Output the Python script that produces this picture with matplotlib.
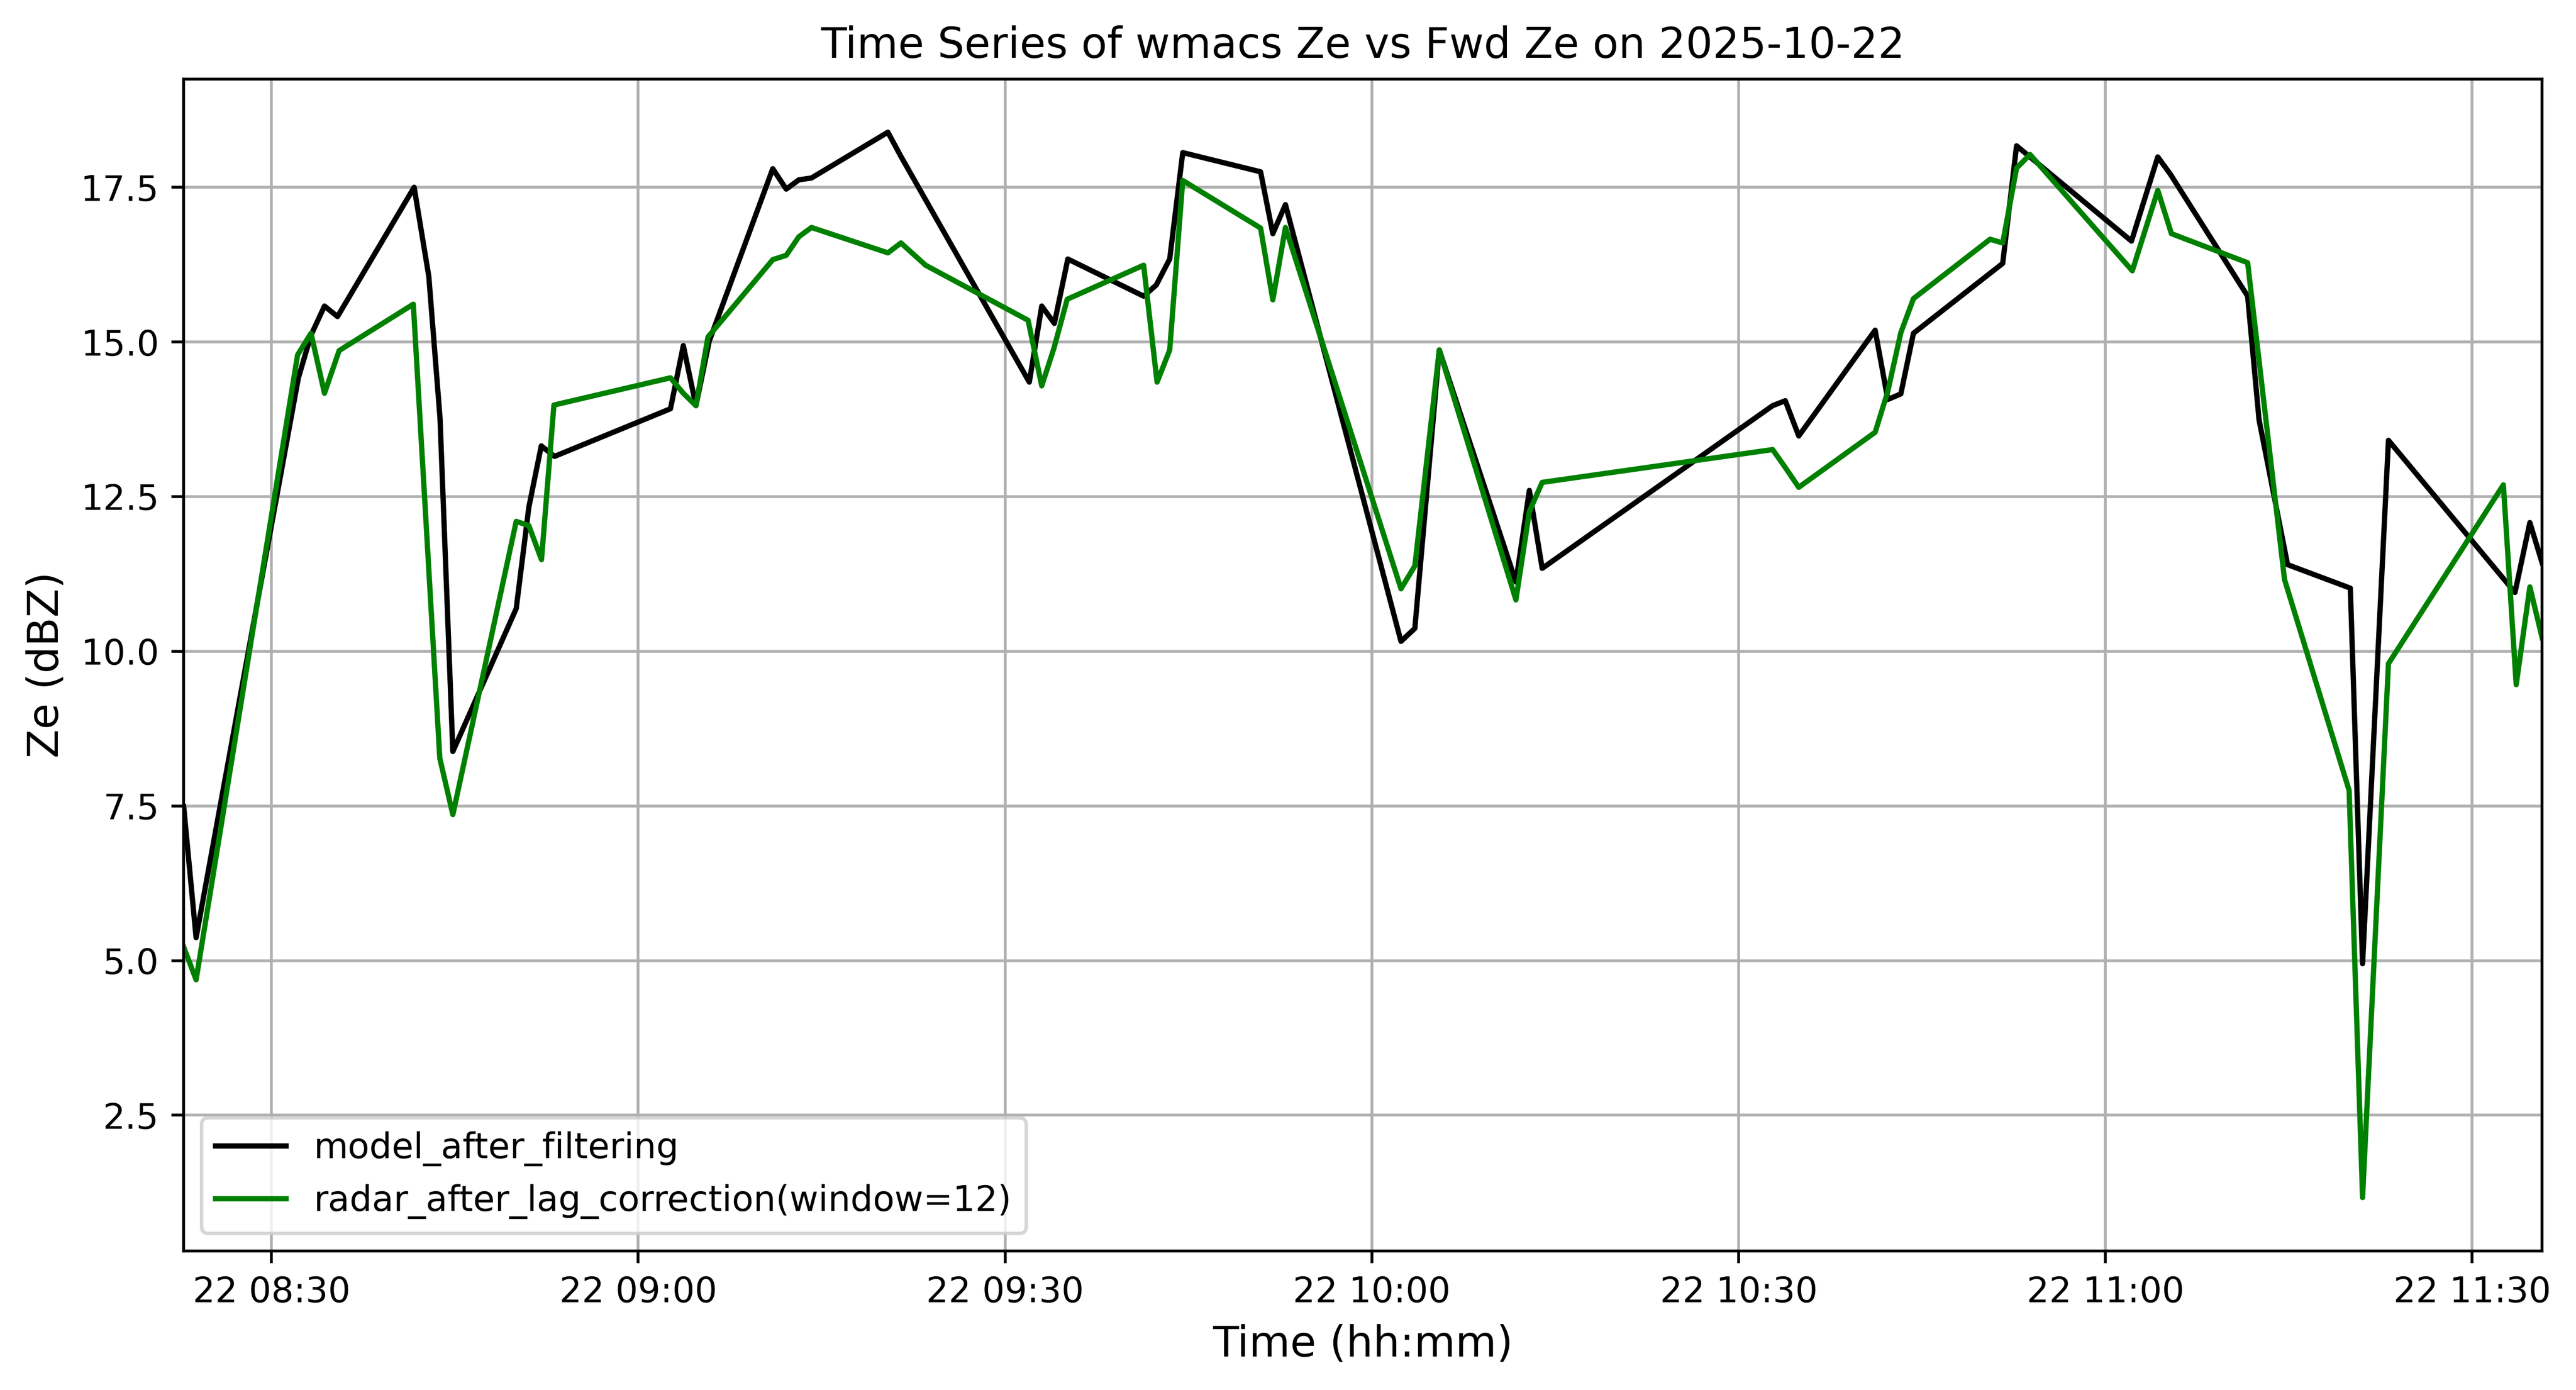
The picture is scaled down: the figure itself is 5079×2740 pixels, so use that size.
import pandas as pd
import matplotlib
matplotlib.use("Agg")
import matplotlib.pyplot as plt

DATE = "2025-10-22"

# model_after_filtering (Ze, dBZ)
model_times = [
    "08:22:49", "08:23:50", "08:32:12", "08:33:14", "08:34:20", "08:35:24",
    "08:41:40", "08:42:52", "08:43:47", "08:44:50", "08:50:01", "08:51:03",
    "08:52:04", "08:53:09", "09:02:38", "09:03:41", "09:04:43", "09:05:48",
    "09:11:00", "09:12:06", "09:13:08", "09:14:10", "09:20:25", "09:21:27",
    "09:31:59", "09:33:00", "09:34:02", "09:35:08", "09:41:20", "09:42:22",
    "09:43:28", "09:44:32", "09:50:54", "09:51:54", "09:52:56", "10:02:23",
    "10:03:31", "10:05:31", "10:11:47", "10:12:53", "10:13:56", "10:32:47",
    "10:33:49", "10:34:55", "10:41:10", "10:42:12", "10:43:16", "10:44:18",
    "10:51:36", "10:52:44", "10:53:50", "11:02:08", "11:04:17", "11:05:19",
    "11:11:38", "11:12:34", "11:14:54", "11:20:02", "11:21:02", "11:23:09",
    "11:33:30", "11:34:43", "11:35:43",
]
model_ze = [
    7.49, 5.37, 14.42, 15.11, 15.58, 15.41,
    17.50, 16.06, 13.77, 8.38, 10.69, 12.33,
    13.32, 13.15, 13.92, 14.94, 13.97, 15.01,
    17.80, 17.47, 17.62, 17.65, 18.39, 18.01,
    14.35, 15.58, 15.30, 16.34, 15.74, 15.92,
    16.34, 18.06, 17.75, 16.75, 17.22, 10.16,
    10.37, 14.87, 11.12, 12.60, 11.34, 13.97,
    14.05, 13.48, 15.19, 14.07, 14.16, 15.14,
    16.27, 18.17, 17.99, 16.63, 17.99, 17.71,
    15.74, 13.74, 11.40, 11.02, 4.95, 13.41,
    10.95, 12.08, 11.43,
]

# radar_after_lag_correction(window=12) (Ze, dBZ)
radar_times = [
    "08:22:49", "08:23:50", "08:32:08", "08:33:14", "08:34:20", "08:35:32",
    "08:41:36", "08:43:46", "08:44:50", "08:50:01", "08:51:03", "08:52:05",
    "08:53:06", "09:02:38", "09:03:41", "09:04:43", "09:05:42", "09:11:00",
    "09:12:06", "09:13:08", "09:14:10", "09:20:25", "09:21:29", "09:23:30",
    "09:31:53", "09:33:00", "09:34:00", "09:35:05", "09:41:20", "09:42:26",
    "09:43:28", "09:44:32", "09:50:54", "09:51:54", "09:52:56", "10:02:23",
    "10:03:31", "10:05:31", "10:11:47", "10:12:53", "10:13:56", "10:32:47",
    "10:33:49", "10:34:55", "10:41:10", "10:42:12", "10:43:16", "10:44:18",
    "10:50:34", "10:51:36", "10:52:44", "10:53:50", "11:02:12", "11:04:17",
    "11:05:24", "11:11:38", "11:14:39", "11:19:56", "11:21:02", "11:23:09",
    "11:32:33", "11:33:36", "11:34:43", "11:35:43",
]
radar_ze = [
    5.22, 4.69, 14.79, 15.14, 14.17, 14.86,
    15.61, 8.27, 7.36, 12.10, 12.03, 11.48,
    13.98, 14.42, 14.17, 13.97, 15.08, 16.33,
    16.40, 16.70, 16.85, 16.44, 16.60, 16.24,
    15.35, 14.29, 14.90, 15.69, 16.24, 14.35,
    14.87, 17.61, 16.84, 15.68, 16.85, 11.01,
    11.38, 14.87, 10.83, 12.26, 12.73, 13.26,
    12.97, 12.65, 13.54, 14.20, 15.15, 15.70,
    16.66, 16.60, 17.81, 18.03, 16.15, 17.45,
    16.75, 16.28, 11.16, 7.75, 1.17, 9.80,
    12.69, 9.46, 11.04, 10.22,
]

model_t = pd.to_datetime([f"{DATE} {t}" for t in model_times])
radar_t = pd.to_datetime([f"{DATE} {t}" for t in radar_times])

fig, ax = plt.subplots(figsize=(12, 6))
ax.plot(model_t, model_ze, color="black", label="model_after_filtering")
ax.plot(radar_t, radar_ze, color="green",
        label="radar_after_lag_correction(window=12)")

ax.set_xlim(min(model_t[0], radar_t[0]), max(model_t[-1], radar_t[-1]))
ax.set_title(f"Time Series of wmacs Ze vs Fwd Ze on {DATE}")
ax.set_xlabel("Time (hh:mm)", fontsize=12)
ax.set_ylabel("Ze (dBZ)", fontsize=12)
ax.grid(True)
ax.legend(loc="lower left")

plt.savefig("out.png", dpi=500, bbox_inches="tight")
